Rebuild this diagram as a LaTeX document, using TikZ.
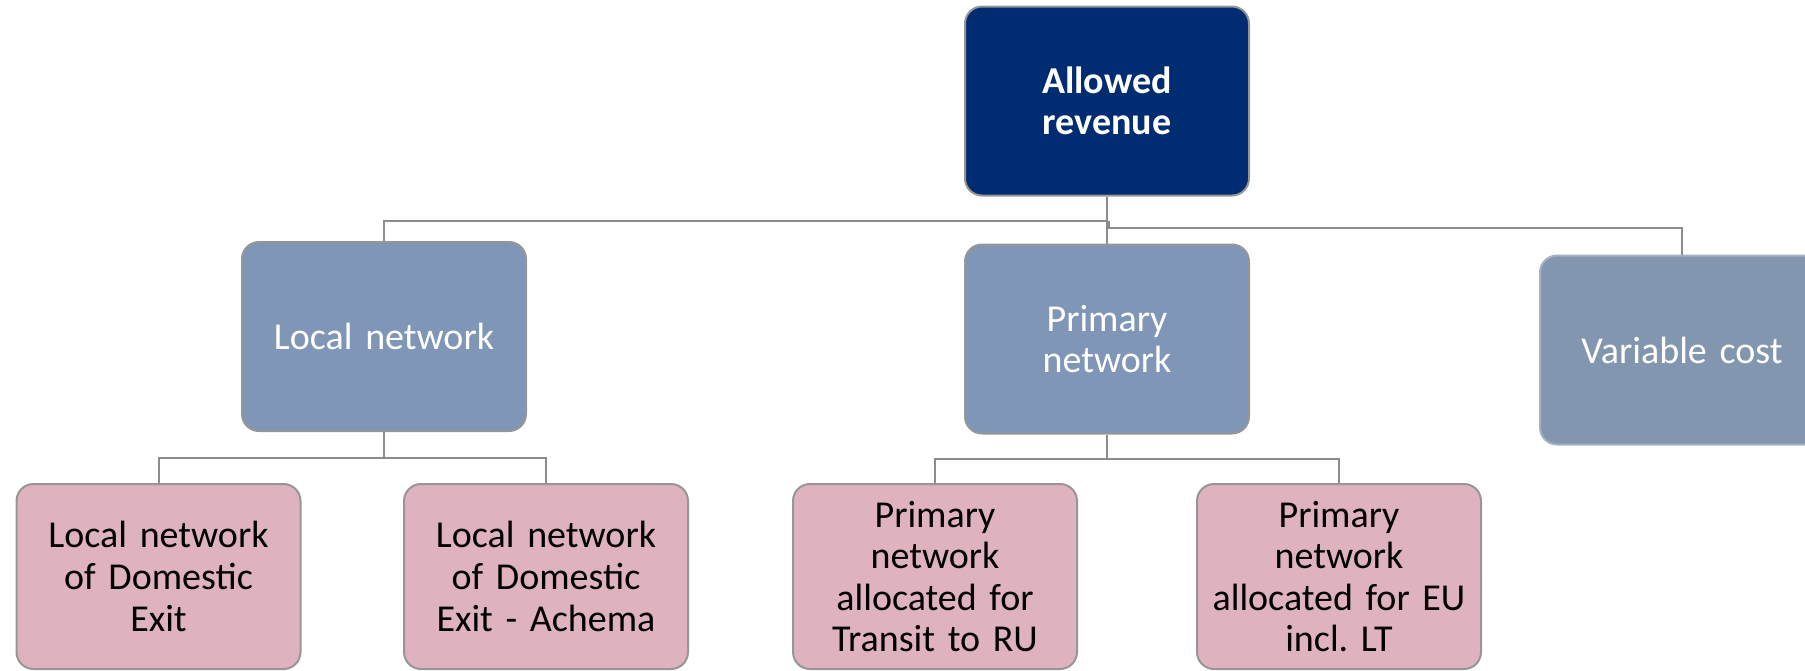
\documentclass[tikz,border=0pt]{standalone}
\usepackage{fontspec}
\setmainfont{Carlito}
\frenchspacing
\definecolor{navybox}{RGB}{0,45,114}
\definecolor{midbox}{RGB}{127,150,183}
\definecolor{varbox}{RGB}{131,150,175}
\definecolor{varedge}{RGB}{165,178,196}
\definecolor{pinkbox}{RGB}{223,178,191}
\definecolor{boxedge}{RGB}{150,150,150}
\definecolor{wire}{RGB}{140,140,140}
\begin{document}
\begin{tikzpicture}[x=0.5pt,y=-0.5pt,
    card/.style={rectangle,rounded corners=8.5pt,draw=boxedge,line width=1pt,
        minimum width=142pt,minimum height=94.5pt,text width=135pt,align=center,
        font=\fontsize{19}{20.8}\selectfont},
    topcard/.style={card,fill=navybox,text=white,font=\fontsize{19}{20.8}\selectfont\bfseries},
    midcard/.style={card,fill=midbox,text=white},
    varcard/.style={card,fill=varbox,draw=varedge,text=white},
    leafcard/.style={card,fill=pinkbox,text=black,minimum height=92.5pt},
    wire/.style={draw=wire,line width=1pt}]
    \useasboundingbox (0,0) rectangle (1805,670);
    % top level
    \node[topcard] (revenue) at (1107,101){Allowed\\revenue};
    % second level
    \node[midcard] (local) at (384,336.5){Local network};
    \node[midcard] (primary) at (1107,339){Primary\\network};
    \node[varcard] (varcost) at (1682,350){Variable cost};
    % third level
    \node[leafcard] (domexit) at (158.5,576.5){Local network\\of Domestic\\Exit};
    \node[leafcard] (achema) at (546,576.5){Local network\\of Domestic\\Exit - Achema};
    \node[leafcard] (transit) at (935,576.5){Primary\\network\\allocated for\\Transit to RU};
    \node[leafcard] (eu) at (1339,576.5){Primary\\network\\allocated for EU\\incl. LT};
    % connectors
    \draw[wire](revenue.south)--++(0,24)-|(local.north);
    \draw[wire](revenue.south)--(primary.north);
    \draw[wire](revenue.south)++(2,24)--++(0,7)-|(varcost.north);
    \draw[wire](local.south)--++(0,26)-|(domexit.north);
    \draw[wire](local.south)++(0,26)-|(achema.north);
    \draw[wire](primary.south)--++(0,24)-|(transit.north);
    \draw[wire](primary.south)++(0,24)-|(eu.north);
\end{tikzpicture}
\end{document}
